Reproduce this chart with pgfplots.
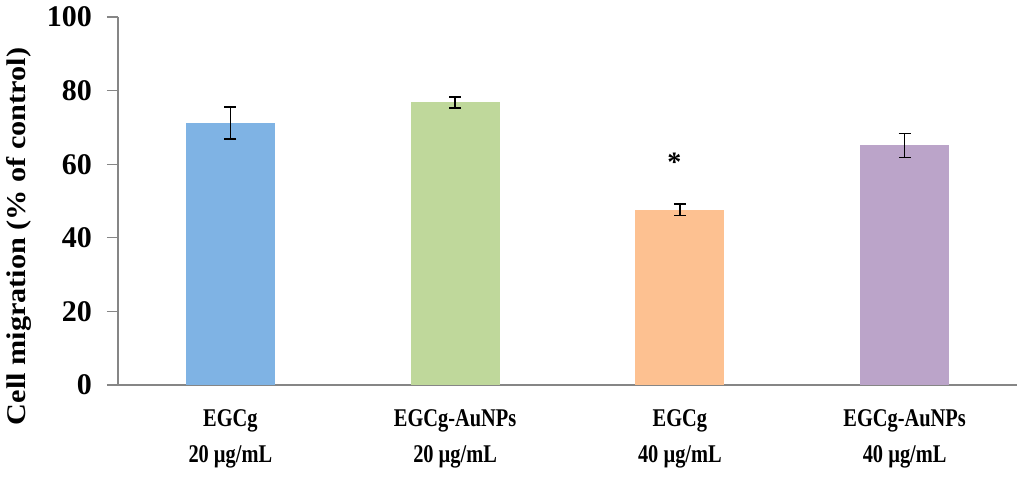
\documentclass[border=0pt]{standalone}
\usepackage{fontspec}
\setmainfont{Liberation Serif}
\newfontfamily\xlfont{Liberation Serif Bold}[FakeStretch=0.8]
\usepackage{pgfplots}
\pgfplotsset{compat=1.18}
\definecolor{axisgray}{RGB}{134,134,134}
\definecolor{cblue}{RGB}{127,179,228}
\definecolor{cgreen}{RGB}{191,216,155}
\definecolor{corange}{RGB}{253,193,145}
\definecolor{cpurple}{RGB}{187,164,201}
\begin{document}
\begin{tikzpicture}
\path[use as bounding box] (0,0) rectangle (1024pt,479pt);
\begin{axis}[
  at={(118pt,94pt)}, anchor=south west,
  scale only axis, width=899pt, height=368pt,
  xmin=-0.5, xmax=3.5, ymin=0, ymax=100,
  axis x line*=bottom, axis y line*=left,
  axis line style={draw=axisgray, line width=1.2pt, -},
  xtick={0,1,2,3},
  xticklabels={{EGCg\\20 µg/mL},{EGCg-AuNPs\\20 µg/mL},{EGCg\\40 µg/mL},{EGCg-AuNPs\\40 µg/mL}},
  xtick style={draw=none},
  xticklabel style={align=center, font=\xlfont\fontsize{25.5}{36.5}\selectfont, yshift=-10pt},
  ytick={0,20,40,60,80,100},
  ytick style={draw=axisgray, line width=1.2pt},
  tick align=outside, major tick length=11pt,
  yticklabel style={font=\bfseries\fontsize{30}{32}\selectfont, inner sep=0pt, xshift=-15pt},
  /pgf/number format/assume math mode=true,
  ylabel={\scalebox{1.12}[1]{Cell migration (\% of control)}},
  ylabel style={font=\bfseries\fontsize{27}{30}\selectfont, at={(axis description cs:-0.1029,0.4035)}, anchor=base, rotate=0},
  ybar, bar width=89pt, bar shift=0pt,
  error bars/y dir=both, error bars/y explicit,
  error bars/error bar style={black, line width=1.5pt},
  error bars/error mark options={rotate=90, mark size=6pt, line width=1.5pt, black},
]
\addplot[fill=cblue, draw=none] coordinates {(0,71.2) +- (0,4.4)};
\addplot[fill=cgreen, draw=none] coordinates {(1,76.8) +- (0,1.5)};
\addplot[fill=corange, draw=none] coordinates {(2,47.6) +- (0,1.6)};
\addplot[fill=cpurple, draw=none] coordinates {(3,65.1) +- (0,3.3)};
\node[anchor=north, inner sep=0pt, font=\bfseries\fontsize{28}{30}\selectfont] at (axis cs:1.976,63.2) {*};
\end{axis}
\end{tikzpicture}
\end{document}
